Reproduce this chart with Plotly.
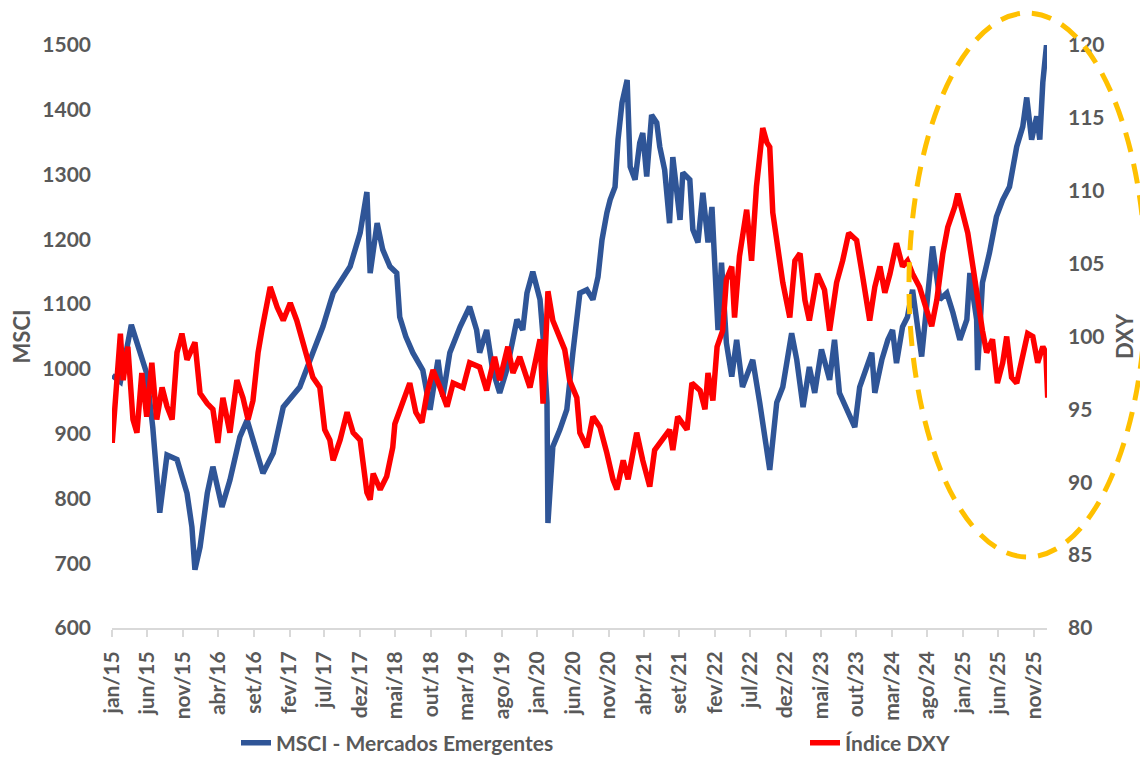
import plotly.graph_objects as go

# ---------------- data ----------------
msci_dates = [
    "2015-01-02", "2015-02-06", "2015-03-25", "2015-04-30", "2015-05-29", "2015-06-25",
    "2015-07-25", "2015-08-25", "2015-10-07", "2015-11-19", "2015-12-10", "2015-12-23",
    "2016-01-14", "2016-02-14", "2016-03-09", "2016-04-17", "2016-05-21", "2016-07-03",
    "2016-08-03", "2016-10-10", "2016-11-23", "2017-01-05", "2017-03-17", "2017-05-12",
    "2017-06-24", "2017-08-07", "2017-10-19", "2017-12-01", "2017-12-30", "2018-01-13",
    "2018-02-12", "2018-03-08", "2018-04-08", "2018-05-07", "2018-05-20", "2018-06-15",
    "2018-07-15", "2018-08-27", "2018-09-27", "2018-10-31", "2018-11-21", "2018-12-21",
    "2019-02-03", "2019-03-16", "2019-04-15", "2019-04-28", "2019-05-28", "2019-06-23",
    "2019-07-23", "2019-08-22", "2019-09-18", "2019-10-05", "2019-10-30", "2019-11-17",
    "2019-12-12", "2020-01-12", "2020-01-25", "2020-02-11", "2020-02-15", "2020-02-24",
    "2020-03-07", "2020-04-06", "2020-05-06", "2020-06-01", "2020-06-18", "2020-07-01",
    "2020-07-31", "2020-08-26", "2020-09-17", "2020-10-04", "2020-10-25", "2020-11-08",
    "2020-11-29", "2020-12-12", "2020-12-29", "2021-01-20", "2021-02-02", "2021-02-23",
    "2021-03-15", "2021-03-28", "2021-04-14", "2021-05-05", "2021-05-27", "2021-06-09",
    "2021-06-30", "2021-07-21", "2021-08-04", "2021-09-04", "2021-09-16", "2021-10-16",
    "2021-10-29", "2021-11-20", "2021-12-11", "2022-01-02", "2022-01-19", "2022-02-02",
    "2022-02-14", "2022-03-01", "2022-03-22", "2022-04-14", "2022-05-05", "2022-05-30",
    "2022-07-13", "2022-08-12", "2022-09-12", "2022-09-24", "2022-10-24", "2022-11-19",
    "2022-12-27", "2023-01-18", "2023-02-14", "2023-03-13", "2023-04-05", "2023-05-04",
    "2023-06-08", "2023-06-29", "2023-07-20", "2023-08-24", "2023-09-24", "2023-10-15",
    "2023-11-15", "2023-12-06", "2023-12-19", "2024-01-18", "2024-02-13", "2024-03-04",
    "2024-03-21", "2024-04-16", "2024-05-07", "2024-05-29", "2024-07-07", "2024-07-28",
    "2024-08-23", "2024-09-23", "2024-10-23", "2024-11-18", "2024-12-18", "2025-01-17",
    "2025-01-30", "2025-02-28", "2025-03-04", "2025-03-25", "2025-04-24", "2025-05-24",
    "2025-06-20", "2025-07-19", "2025-08-19", "2025-09-14", "2025-10-01", "2025-10-22",
    "2025-11-13", "2025-11-26", "2025-12-09", "2025-12-26",
]
msci_values = [
    990, 980, 1068, 1025, 994, 910,
    778, 867, 860, 808, 756, 690,
    725, 808, 849, 787, 828, 895,
    921, 839, 870, 941, 972, 1025,
    1065, 1117, 1158, 1210, 1273, 1148,
    1225, 1184, 1158, 1148, 1080, 1050,
    1025, 998, 937, 1014, 957, 1025,
    1065, 1096, 1060, 1025, 1060, 998,
    963, 998, 1045, 1076, 1060, 1117,
    1150, 1107, 1050, 948, 762, 829,
    880, 906, 937, 1025, 1087, 1117,
    1122, 1107, 1142, 1199, 1241, 1261,
    1281, 1354, 1411, 1446, 1312, 1292,
    1349, 1364, 1297, 1392, 1380, 1343,
    1307, 1225, 1327, 1230, 1303, 1292,
    1215, 1195, 1272, 1195, 1250, 1158,
    1060, 1164, 1040, 988, 1045, 972,
    1014, 948, 870, 844, 948, 972,
    1055, 1014, 941, 1003, 963, 1030,
    983, 1045, 963, 932, 910, 972,
    1003, 1025, 963, 1014, 1045, 1060,
    1009, 1065, 1080, 1122, 1019, 1087,
    1189, 1107, 1117, 1087, 1045, 1076,
    1148, 1076, 998, 1133, 1179, 1235,
    1261, 1281, 1343, 1374, 1419, 1354,
    1390, 1354, 1442, 1504,
]

dxy_dates = [
    "2015-01-02", "2015-01-15", "2015-02-06", "2015-02-18", "2015-03-10", "2015-04-01",
    "2015-04-18", "2015-05-09", "2015-05-30", "2015-06-21", "2015-07-12", "2015-08-04",
    "2015-08-25", "2015-09-16", "2015-10-07", "2015-10-28", "2015-11-19", "2015-12-23",
    "2016-01-14", "2016-02-14", "2016-03-09", "2016-03-30", "2016-04-21", "2016-05-21",
    "2016-06-20", "2016-07-16", "2016-08-07", "2016-08-28", "2016-09-19", "2016-10-06",
    "2016-10-23", "2016-11-10", "2016-12-10", "2017-01-05", "2017-02-04", "2017-03-04",
    "2017-04-17", "2017-05-12", "2017-06-11", "2017-07-02", "2017-07-24", "2017-08-07",
    "2017-09-06", "2017-10-06", "2017-11-01", "2017-12-01", "2017-12-30", "2018-01-13",
    "2018-01-26", "2018-02-25", "2018-03-25", "2018-04-20", "2018-04-29", "2018-06-03",
    "2018-07-02", "2018-07-28", "2018-08-23", "2018-09-14", "2018-10-10", "2018-11-09",
    "2018-12-09", "2019-01-04", "2019-02-16", "2019-03-16", "2019-04-28", "2019-05-28",
    "2019-07-01", "2019-07-23", "2019-08-27", "2019-09-18", "2019-10-17", "2019-11-30",
    "2020-01-12", "2020-01-25", "2020-02-15", "2020-03-07", "2020-04-06", "2020-04-27",
    "2020-05-18", "2020-06-18", "2020-07-01", "2020-07-31", "2020-08-26", "2020-09-25",
    "2020-10-25", "2020-11-20", "2020-12-07", "2021-01-03", "2021-01-24", "2021-03-02",
    "2021-03-28", "2021-04-27", "2021-05-18", "2021-06-22", "2021-07-21", "2021-08-04",
    "2021-08-25", "2021-10-04", "2021-10-25", "2021-11-29", "2021-12-20", "2022-01-02",
    "2022-01-23", "2022-02-10", "2022-03-06", "2022-03-22", "2022-04-14", "2022-04-26",
    "2022-05-17", "2022-06-17", "2022-07-08", "2022-07-29", "2022-08-25", "2022-09-12",
    "2022-09-24", "2022-10-07", "2022-10-24", "2022-11-19", "2022-12-19", "2023-01-10",
    "2023-02-01", "2023-02-22", "2023-03-13", "2023-04-17", "2023-05-17", "2023-06-08",
    "2023-07-08", "2023-08-03", "2023-08-29", "2023-10-02", "2023-10-28", "2023-11-27",
    "2023-12-19", "2024-01-10", "2024-01-31", "2024-02-22", "2024-03-21", "2024-04-16",
    "2024-05-07", "2024-05-29", "2024-06-28", "2024-07-28", "2024-08-19", "2024-09-10",
    "2024-10-06", "2024-10-27", "2024-11-26", "2024-12-09", "2024-12-30", "2025-01-21",
    "2025-02-12", "2025-03-04", "2025-03-25", "2025-04-12", "2025-05-07", "2025-05-28",
    "2025-06-20", "2025-07-07", "2025-07-28", "2025-08-19", "2025-09-14", "2025-10-05",
    "2025-10-27", "2025-11-17", "2025-12-09", "2025-12-22", "2025-12-30",
]
dxy_values = [
    92.7, 95.2, 100.2, 97.0, 99.3, 94.3,
    93.4, 97.5, 94.5, 98.2, 94.3, 96.5,
    95.2, 94.3, 98.9, 100.2, 98.4, 99.6,
    96.1, 95.4, 95.0, 92.7, 95.8, 93.4,
    97.0, 95.8, 94.3, 95.6, 98.9, 100.5,
    101.8, 103.4, 102.0, 101.1, 102.3, 101.1,
    98.6, 97.2, 96.5, 93.6, 92.9, 91.5,
    92.9, 94.8, 93.4, 92.9, 89.3, 88.8,
    90.6, 89.5, 90.4, 92.4, 94.0, 95.4,
    96.8, 94.8, 94.1, 96.1, 97.7, 96.5,
    95.2, 96.8, 96.5, 98.2, 97.9, 96.3,
    98.6, 97.0, 99.3, 97.5, 98.6, 96.5,
    99.8, 95.4, 103.1, 101.1, 100.0, 99.1,
    97.0, 95.8, 93.4, 92.4, 94.5, 93.8,
    92.0, 90.2, 89.5, 91.5, 90.2, 93.4,
    91.5, 89.7, 92.2, 92.9, 93.6, 92.2,
    94.5, 93.6, 96.8, 96.3, 95.0, 97.5,
    95.6, 99.3, 100.4, 103.9, 104.8, 101.3,
    105.5, 108.7, 105.2, 110.3, 114.3, 113.3,
    113.0, 108.5, 106.4, 103.7, 101.3, 105.2,
    105.7, 102.5, 101.1, 104.3, 103.2, 100.4,
    103.7, 105.2, 107.1, 106.6, 104.1, 101.1,
    103.4, 104.8, 103.0, 104.3, 106.4, 104.8,
    105.2, 104.3, 103.4, 101.8, 100.7, 102.5,
    105.7, 107.5, 108.9, 109.8, 108.4, 107.1,
    104.8, 102.5, 100.4, 98.9, 99.8, 96.8,
    98.2, 100.0, 97.2, 96.8, 98.9, 100.2,
    100.0, 98.2, 99.3, 98.9, 95.8,
]

tick_dates = [
    "2015-01-01", "2015-06-01", "2015-11-01", "2016-04-01", "2016-09-01", "2017-02-01",
    "2017-07-01", "2017-12-01", "2018-05-01", "2018-10-01", "2019-03-01", "2019-08-01",
    "2020-01-01", "2020-06-01", "2020-11-01", "2021-04-01", "2021-09-01", "2022-02-01",
    "2022-07-01", "2022-12-01", "2023-05-01", "2023-10-01", "2024-03-01", "2024-08-01",
    "2025-01-01", "2025-06-01", "2025-11-01",
]
tick_labels = [
    "jan/15", "jun/15", "nov/15", "abr/16", "set/16", "fev/17",
    "jul/17", "dez/17", "mai/18", "out/18", "mar/19", "ago/19",
    "jan/20", "jun/20", "nov/20", "abr/21", "set/21", "fev/22",
    "jul/22", "dez/22", "mai/23", "out/23", "mar/24", "ago/24",
    "jan/25", "jun/25", "nov/25",
]

msci_name = "MSCI - Mercados Emergentes"
dxy_name = "Índice DXY"

# ---------------- styling ----------------
FONT = "Lato"
GREY = "#595959"
BLUE = "#2F5597"
RED = "#FF0000"
GOLD = "#FFC000"

# the page body adds an 8px offset, so the figure is 8px smaller than the window
W, H = 1140, 749
L, T = 104, 37
PW, PH = 935, 583

def px_x(x):
    return (x - 8 - L) / PW

def px_y(y):
    return (T + PH - (y - 8)) / PH

fig = go.Figure()
fig.add_trace(go.Scatter(
    x=msci_dates, y=msci_values, name=msci_name, mode="lines",
    line=dict(color=BLUE, width=5.5), yaxis="y", legend="legend",
))
fig.add_trace(go.Scatter(
    x=dxy_dates, y=dxy_values, name=dxy_name, mode="lines",
    line=dict(color=RED, width=5.5), yaxis="y2", legend="legend2",
))

tickfont = dict(family=FONT, size=21, color=GREY, weight="bold")
legfont = dict(family=FONT, size=21, color=GREY, weight="bold")
titlefont = dict(family=FONT, size=22, color=GREY, weight="bold")

fig.update_layout(
    width=W, height=H,
    margin=dict(l=L, r=W - L - PW, t=T, b=H - T - PH, autoexpand=False),
    paper_bgcolor="white", plot_bgcolor="white",
    font=dict(family=FONT, color=GREY),
    xaxis=dict(
        type="date", range=["2015-01-01", "2025-12-27"], automargin=False,
        tickmode="array", tickvals=tick_dates, ticktext=tick_labels,
        tickangle=-90, tickfont=tickfont,
        ticks="outside", ticklen=7, tickcolor="#D9D9D9", tickwidth=1.5,
        showline=True, linecolor="#D9D9D9", linewidth=2,
        showgrid=False, zeroline=False, ticklabelstandoff=6,
    ),
    yaxis=dict(
        range=[600, 1500], dtick=100, tick0=600, showgrid=False, zeroline=False,
        tickfont=tickfont, ticklabelstandoff=20, automargin=False,
        title=dict(text="<b>MSCI</b>", font=titlefont, standoff=6),
    ),
    yaxis2=dict(
        range=[80, 120], dtick=5, tick0=80, overlaying="y", side="right",
        showgrid=False, zeroline=False, tickfont=tickfont, ticklabelstandoff=20,
        automargin=False,
        title=dict(text="<b>DXY</b>", font=titlefont, standoff=14),
    ),
    legend=dict(
        orientation="h", x=px_x(236), xanchor="left", y=px_y(743), yanchor="middle",
        font=legfont, bgcolor="rgba(0,0,0,0)",
    ),
    legend2=dict(
        orientation="h", x=px_x(805), xanchor="left", y=px_y(743), yanchor="middle",
        font=legfont, bgcolor="rgba(0,0,0,0)",
    ),
    showlegend=True,
)

fig.add_shape(
    type="circle", xref="paper", yref="paper",
    x0=px_x(909), x1=px_x(1146),
    y0=px_y(557), y1=px_y(13),
    line=dict(color=GOLD, width=5, dash="20px,12px"),
    layer="above",
)

fig.write_html("out.html")
